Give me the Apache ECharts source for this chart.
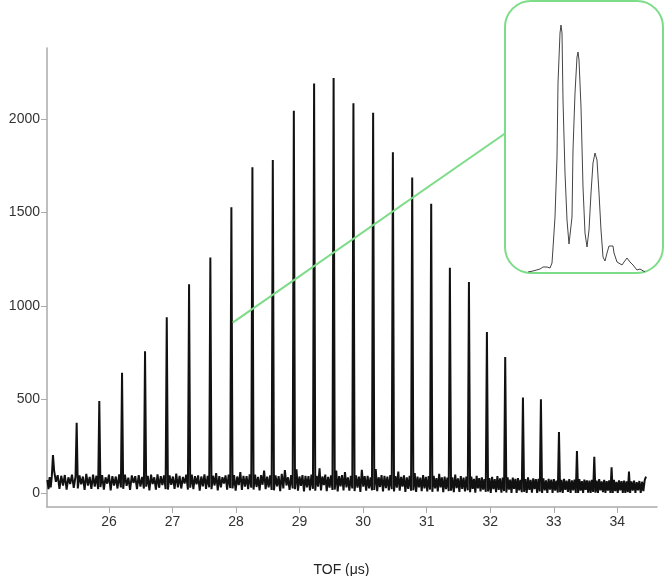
<!DOCTYPE html>
<html>
<head>
<meta charset="utf-8">
<script src="https://cdn.jsdelivr.net/npm/echarts@6/dist/echarts.min.js"></script>
<style>
  html, body { margin: 0; padding: 0; background: #fff; }
  #tofChart { width: 664px; height: 576px; }
</style>
</head>
<body>
<div id="tofChart"></div>
<script>
// spectrum
let tofStart = 25.03
let tofEnd = 34.452
let peakTof = [25.118, 25.491, 25.847, 26.205, 26.567, 26.909, 27.260, 27.595, 27.926, 28.257,
	28.578, 28.909, 29.228, 29.535, 29.847, 30.157, 30.468, 30.772, 31.071, 31.365,
	31.665, 31.948, 32.236, 32.515, 32.798, 33.082, 33.365, 33.638, 33.910, 34.184]
let peakCounts = [203, 376, 492, 643, 758, 940, 1116, 1260, 1528, 1742,
	1781, 2044, 2190, 2220, 2084, 2034, 1822, 1688, 1547, 1205,
	1128, 861, 727, 510, 501, 326, 225, 194, 137, 114]
// noisy baseline between the peaks (one group per gap)
let baseline = [
	[70, 20, 85, 30, 90],
	[120, 60, 95, 22, 92, 40, 96, 18, 84, 48, 98, 28, 88],
	[24, 94, 46, 88, 16, 102, 40, 86, 22, 98, 34, 92, 20],
	[32, 96, 18, 84, 50, 98, 14, 90, 40, 88, 24, 100, 30],
	[22, 98, 38, 82, 16, 94, 54, 90, 20, 96, 34, 86, 24],
	[34, 92, 14, 98, 48, 84, 18, 100, 28, 90, 42, 94, 20],
	[18, 94, 44, 88, 22, 104, 30, 92, 24, 86, 50, 98, 18],
	[28, 98, 20, 90, 46, 94, 12, 88, 36, 100, 22, 92, 30],
	[20, 92, 40, 106, 14, 90, 30, 84, 50, 94, 18, 98, 26],
	[24, 96, 12, 88, 42, 112, 16, 92, 34, 90, 20, 100, 28],
	[18, 98, 32, 86, 14, 96, 44, 120, 20, 88, 30, 94, 16],
	[14, 94, 36, 90, 10, 102, 24, 122, 40, 84, 16, 96, 24],
	[20, 126, 12, 88, 38, 96, 8, 92, 30, 90, 14, 98, 22],
	[12, 92, 34, 132, 14, 88, 42, 98, 10, 86, 28, 94, 16],
	[18, 120, 8, 90, 36, 96, 14, 112, 30, 84, 12, 92, 24],
	[10, 94, 28, 88, 6, 124, 34, 90, 12, 92, 24, 84, 14],
	[16, 128, 10, 84, 32, 96, 8, 92, 26, 88, 14, 96, 20],
	[8, 90, 28, 114, 12, 86, 34, 94, 6, 84, 22, 92, 12],
	[14, 106, 6, 88, 30, 82, 10, 96, 24, 86, 8, 90, 18],
	[6, 92, 24, 80, 8, 102, 30, 84, 4, 88, 20, 82, 10],
	[12, 84, 4, 98, 26, 78, 6, 90, 22, 82, 8, 88, 14],
	[4, 88, 22, 76, 2, 92, 24, 80, 8, 84, 18, 74, 6],
	[8, 80, 0, 86, 20, 74, 4, 90, 16, 78, 2, 82, 10],
	[2, 84, 18, 72, 0, 82, 22, 76, 0, 80, 14, 70, 4],
	[6, 74, 0, 84, 16, 70, 2, 78, 20, 74, 0, 76, 8],
	[0, 78, 14, 68, 0, 76, 18, 72, 0, 74, 12, 66, 2],
	[4, 70, 0, 76, 16, 66, 6, 74, 0, 68, 14, 72, 0],
	[0, 74, 12, 64, 0, 72, 16, 68, 2, 66, 0, 70, 6],
	[2, 66, 0, 74, 14, 62, 4, 70, 0, 64, 12, 68, 0],
	[0, 70, 10, 60, 0, 68, 14, 64, 0, 66, 0, 62, 4],
	[0, 62, 12, 66, 0, 58, 14, 64, 0, 60, 10, 68, 87]
]
let xTicks = [26, 27, 28, 29, 30, 31, 32, 33, 34]
let yTicks = [0, 500, 1000, 1500, 2000]

// zoomed peak group (arbitrary units)
let insetX = [0, 5, 12, 15, 17, 19, 22, 24, 25, 27, 29, 30, 32, 33, 34, 35, 37, 39, 41, 44,
	45, 47, 49, 50, 51, 53, 55, 57, 59, 61, 63, 65, 67, 69, 71, 73, 75, 77, 79, 81,
	83, 85, 86, 89, 91, 94, 96, 99, 100, 102, 105, 107, 109, 112, 114, 117]
let insetY = [0, 1, 3, 5, 3, 5, 4, 9, 24, 55, 115, 189, 239, 247, 239, 172, 99, 52, 28, 55,
	122, 179, 215, 220, 212, 165, 85, 39, 25, 42, 79, 109, 119, 112, 79, 42, 15, 11, 19, 26,
	25, 26, 19, 10, 9, 7, 10, 14, 14, 10, 7, 5, 2, 3, 1, 0]

let spectrum = []
let hw = 0.018
for (let i = 0; i <= peakTof.length; i++) {
	let a = i === 0 ? tofStart : peakTof[i - 1] + hw
	let b = i === peakTof.length ? tofEnd : peakTof[i] - hw
	let g = baseline[i]
	g.forEach((v, k) => {
		spectrum.push([a + (b - a) * k / (g.length - 1), v])
	})
	if (i < peakTof.length) spectrum.push([peakTof[i], peakCounts[i]])
}
let insetData = insetX.map((x, i) => [x, insetY[i]])

let green = '#7ddc88'
let axisGray = '#aaaaaa'
let tickFont = "'Liberation Sans Narrow', 'Liberation Sans', sans-serif"

let tofChart = echarts.init(document.getElementById('tofChart'))
let tofOption = {
	animation: false,
	backgroundColor: '#fff',
	grid: [
		{ left: 47, right: 7, top: 48, bottom: 69, containLabel: false, outerBoundsMode: 'none' },
		{ left: 528, top: 22, width: 117, height: 250, containLabel: false, outerBoundsMode: 'none' }
	],
	xAxis: [{
			type: 'value',
			gridIndex: 0,
			min: 25.024,
			max: 34.625,
			axisLine: { onZero: false, lineStyle: { color: axisGray, width: 1.5 } },
			axisTick: { length: 6, lineStyle: { color: axisGray }, customValues: xTicks },
			axisLabel: {
				customValues: xTicks,
				formatter: v => String(v),
				margin: 8,
				color: '#333',
				fontFamily: tickFont,
				fontSize: 14
			},
			splitLine: { show: false }
		},
		{
			type: 'value',
			gridIndex: 1,
			min: 0,
			max: 117,
			show: false
		}
	],
	yAxis: [{
			type: 'value',
			gridIndex: 0,
			min: -75,
			max: 2380,
			name: 'Intensity',
			nameLocation: 'middle',
			nameGap: 32,
			nameTextStyle: { color: '#222', fontFamily: 'Liberation Sans', fontSize: 14 },
			axisLine: { show: true, onZero: false, lineStyle: { color: axisGray, width: 1.5 } },
			axisTick: { show: true, length: 6, lineStyle: { color: axisGray }, customValues: yTicks },
			axisLabel: {
				customValues: yTicks,
				formatter: v => String(v),
				margin: 7,
				color: '#333',
				fontFamily: tickFont,
				fontSize: 14
			},
			splitLine: { show: false }
		},
		{
			type: 'value',
			gridIndex: 1,
			min: 0,
			max: 250,
			show: false
		}
	],
	series: [{
			type: 'line',
			xAxisIndex: 0,
			yAxisIndex: 0,
			showSymbol: false,
			sampling: null,
			lineStyle: { color: '#111', width: 2 },
			data: spectrum,
			z: 2
		},
		{
			type: 'line',
			xAxisIndex: 1,
			yAxisIndex: 1,
			showSymbol: false,
			lineStyle: { color: '#444', width: 1 },
			data: insetData,
			z: 5
		}
	]
}
tofChart.setOption(tofOption)

// inset frame, connector and x axis title
let p0 = tofChart.convertToPixel({ gridIndex: 0 }, [27.947, 911])
tofChart.setOption({
	graphic: [{
			type: 'rect',
			z: 1,
			shape: { x: 505, y: 1, width: 158, height: 272, r: 26 },
			style: { fill: '#fff', stroke: green, lineWidth: 2 }
		},
		{
			type: 'line',
			z: 10,
			shape: { x1: p0[0], y1: p0[1], x2: 505, y2: 133.5 },
			style: { stroke: green, lineWidth: 2 }
		},
		{
			type: 'text',
			z: 10,
			x: 341.5,
			y: 570,
			style: {
				text: 'TOF (μs)',
				fill: '#222',
				font: "14px 'Liberation Sans', sans-serif",
				align: 'center',
				verticalAlign: 'middle'
			}
		}
	]
})
</script>
</body>
</html>
